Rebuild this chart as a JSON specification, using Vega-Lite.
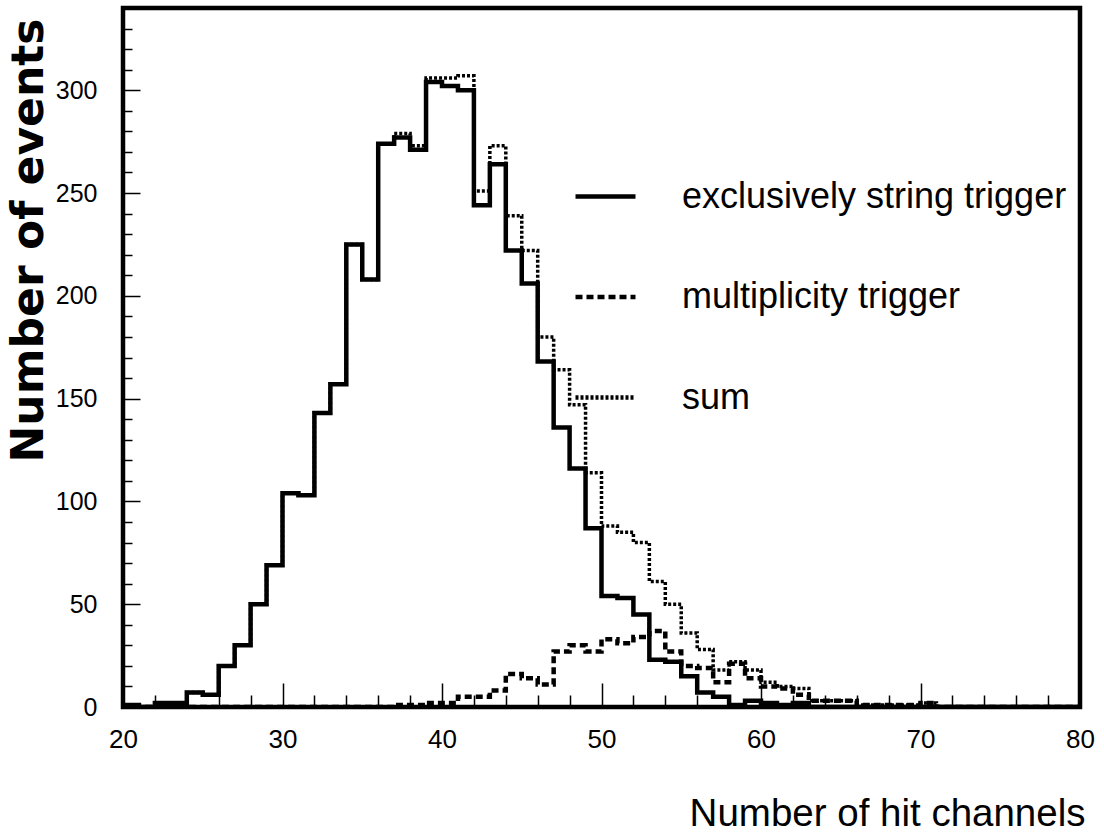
{
  "$schema": "https://vega.github.io/schema/vega-lite/v6.json",
  "width": 957,
  "height": 699,
  "autosize": {"type": "none"},
  "padding": {"left": 123, "top": 8, "right": 24, "bottom": 125},
  "background": "white",
  "config": {
    "view": {"stroke": "black", "strokeWidth": 4.5},
    "axis": {"domain": false, "grid": false, "tickColor": "black", "tickWidth": 1.5, "labelColor": "black", "titleColor": "black"}
  },
  "data": {
    "values": [
      {"ch": 20, "exclusively string trigger": 1, "multiplicity trigger": 0, "sum": 1},
      {"ch": 21, "exclusively string trigger": 0, "multiplicity trigger": 0, "sum": 0},
      {"ch": 22, "exclusively string trigger": 2, "multiplicity trigger": 0, "sum": 2},
      {"ch": 23, "exclusively string trigger": 2, "multiplicity trigger": 0, "sum": 2},
      {"ch": 24, "exclusively string trigger": 7, "multiplicity trigger": 0, "sum": 7},
      {"ch": 25, "exclusively string trigger": 6, "multiplicity trigger": 0, "sum": 6},
      {"ch": 26, "exclusively string trigger": 20, "multiplicity trigger": 0, "sum": 20},
      {"ch": 27, "exclusively string trigger": 30, "multiplicity trigger": 0, "sum": 30},
      {"ch": 28, "exclusively string trigger": 50, "multiplicity trigger": 0, "sum": 50},
      {"ch": 29, "exclusively string trigger": 69, "multiplicity trigger": 0, "sum": 69},
      {"ch": 30, "exclusively string trigger": 104, "multiplicity trigger": 0, "sum": 104},
      {"ch": 31, "exclusively string trigger": 103, "multiplicity trigger": 0, "sum": 103},
      {"ch": 32, "exclusively string trigger": 143, "multiplicity trigger": 0, "sum": 143},
      {"ch": 33, "exclusively string trigger": 157, "multiplicity trigger": 0, "sum": 157},
      {"ch": 34, "exclusively string trigger": 225, "multiplicity trigger": 0, "sum": 225},
      {"ch": 35, "exclusively string trigger": 208, "multiplicity trigger": 0, "sum": 208},
      {"ch": 36, "exclusively string trigger": 274, "multiplicity trigger": 0, "sum": 274},
      {"ch": 37, "exclusively string trigger": 277, "multiplicity trigger": 1, "sum": 279},
      {"ch": 38, "exclusively string trigger": 271, "multiplicity trigger": 1, "sum": 273},
      {"ch": 39, "exclusively string trigger": 304, "multiplicity trigger": 2, "sum": 306},
      {"ch": 40, "exclusively string trigger": 302, "multiplicity trigger": 2, "sum": 306},
      {"ch": 41, "exclusively string trigger": 300, "multiplicity trigger": 5, "sum": 307},
      {"ch": 42, "exclusively string trigger": 244, "multiplicity trigger": 5, "sum": 251},
      {"ch": 43, "exclusively string trigger": 264, "multiplicity trigger": 8, "sum": 273},
      {"ch": 44, "exclusively string trigger": 222, "multiplicity trigger": 16, "sum": 239},
      {"ch": 45, "exclusively string trigger": 206, "multiplicity trigger": 14, "sum": 222},
      {"ch": 46, "exclusively string trigger": 168, "multiplicity trigger": 11, "sum": 180},
      {"ch": 47, "exclusively string trigger": 136, "multiplicity trigger": 27, "sum": 164},
      {"ch": 48, "exclusively string trigger": 116, "multiplicity trigger": 30, "sum": 147},
      {"ch": 49, "exclusively string trigger": 87, "multiplicity trigger": 27, "sum": 114},
      {"ch": 50, "exclusively string trigger": 54, "multiplicity trigger": 33, "sum": 88},
      {"ch": 51, "exclusively string trigger": 53, "multiplicity trigger": 31, "sum": 85},
      {"ch": 52, "exclusively string trigger": 45, "multiplicity trigger": 34, "sum": 80},
      {"ch": 53, "exclusively string trigger": 23, "multiplicity trigger": 37, "sum": 61},
      {"ch": 54, "exclusively string trigger": 22, "multiplicity trigger": 27, "sum": 50},
      {"ch": 55, "exclusively string trigger": 15, "multiplicity trigger": 20, "sum": 36},
      {"ch": 56, "exclusively string trigger": 7, "multiplicity trigger": 19, "sum": 28},
      {"ch": 57, "exclusively string trigger": 5, "multiplicity trigger": 12, "sum": 18},
      {"ch": 58, "exclusively string trigger": 1, "multiplicity trigger": 21, "sum": 22},
      {"ch": 59, "exclusively string trigger": 3, "multiplicity trigger": 14, "sum": 18},
      {"ch": 60, "exclusively string trigger": 2, "multiplicity trigger": 10, "sum": 12},
      {"ch": 61, "exclusively string trigger": 1, "multiplicity trigger": 9, "sum": 10},
      {"ch": 62, "exclusively string trigger": 2, "multiplicity trigger": 6, "sum": 9},
      {"ch": 63, "exclusively string trigger": 0, "multiplicity trigger": 3, "sum": 3},
      {"ch": 64, "exclusively string trigger": 0, "multiplicity trigger": 3, "sum": 3},
      {"ch": 65, "exclusively string trigger": 0, "multiplicity trigger": 3, "sum": 3},
      {"ch": 66, "exclusively string trigger": 0, "multiplicity trigger": 1, "sum": 1},
      {"ch": 67, "exclusively string trigger": 0, "multiplicity trigger": 1, "sum": 1},
      {"ch": 68, "exclusively string trigger": 0, "multiplicity trigger": 1, "sum": 1},
      {"ch": 69, "exclusively string trigger": 0, "multiplicity trigger": 1, "sum": 1},
      {"ch": 70, "exclusively string trigger": 0, "multiplicity trigger": 2, "sum": 2},
      {"ch": 71, "exclusively string trigger": 0, "multiplicity trigger": 0, "sum": 0},
      {"ch": 72, "exclusively string trigger": 0, "multiplicity trigger": 0, "sum": 0},
      {"ch": 73, "exclusively string trigger": 0, "multiplicity trigger": 0, "sum": 0},
      {"ch": 74, "exclusively string trigger": 0, "multiplicity trigger": 0, "sum": 0},
      {"ch": 75, "exclusively string trigger": 0, "multiplicity trigger": 0, "sum": 0},
      {"ch": 76, "exclusively string trigger": 0, "multiplicity trigger": 0, "sum": 0},
      {"ch": 77, "exclusively string trigger": 0, "multiplicity trigger": 0, "sum": 0},
      {"ch": 78, "exclusively string trigger": 0, "multiplicity trigger": 0, "sum": 0},
      {"ch": 79, "exclusively string trigger": 0, "multiplicity trigger": 0, "sum": 0},
      {"ch": 80, "exclusively string trigger": 0, "multiplicity trigger": 0, "sum": 0}
    ]
  },
  "transform": [
    {"fold": ["exclusively string trigger", "multiplicity trigger", "sum"], "as": ["series", "count"]}
  ],
  "layer": [
    {
      "transform": [{"filter": "datum.series !== 'sum'"}],
      "mark": {"type": "line", "interpolate": "step-after", "color": "black", "strokeWidth": 4.5, "clip": true},
      "encoding": {
        "x": {
          "field": "ch", "type": "quantitative",
          "scale": {"domain": [20, 80], "nice": false, "zero": false},
          "axis": {
            "orient": "bottom", "values": [20, 30, 40, 50, 60, 70, 80], "tickSize": -24, "labelPadding": 43,
            "labelFont": "Liberation Sans", "labelFontSize": 26, "labelFlush": false,
            "title": "Number of hit channels", "titleFont": "Liberation Sans", "titleFontSize": 38.5, "titleFontWeight": "normal",
            "titleAlign": "right", "titleBaseline": "alphabetic", "titleX": 962, "titleY": 118, "titleAnchor": "end"
          }
        },
        "y": {
          "field": "count", "type": "quantitative",
          "scale": {"domain": [0, 340], "nice": false},
          "axis": {
            "orient": "left", "values": [0, 50, 100, 150, 200, 250, 300], "tickSize": -17, "labelPadding": 43,
            "labelFont": "Liberation Sans", "labelFontSize": 25, "labelFlush": false,
            "title": "Number of events", "titleFont": "DejaVu Sans", "titleFontSize": 44, "titleFontWeight": "bold",
            "titleAngle": 270, "titleAlign": "right", "titleBaseline": "alphabetic", "titleX": -81, "titleY": 10, "titleAnchor": "end"
          }
        },
        "strokeDash": {
          "field": "series", "type": "nominal",
          "scale": {"domain": ["exclusively string trigger", "multiplicity trigger", "sum"], "range": [[1, 0], [7, 4], [3, 2]]},
          "legend": {
            "orient": "none", "legendX": 450, "legendY": 156, "title": null,
            "symbolSize": 3600, "symbolStrokeColor": "black", "symbolStrokeWidth": 4.5,
            "labelFont": "Liberation Sans", "labelFontSize": 36, "labelColor": "black",
            "labelOffset": 44, "rowPadding": 49.5, "labelLimit": 0, "labelBaseline": "middle",
            "encode": {
              "labels": {"dy": {"value": 8}}
            }
          }
        }
      }
    },
    {
      "transform": [{"filter": "datum.series === 'sum'"}],
      "mark": {"type": "line", "interpolate": "step-after", "color": "black", "strokeWidth": 3.5, "clip": true},
      "encoding": {
        "x": {
          "field": "ch", "type": "quantitative",
          "scale": {"domain": [20, 80], "nice": false, "zero": false},
          "axis": {
            "orient": "bottom", "values": [22, 24, 26, 28, 32, 34, 36, 38, 42, 44, 46, 48, 52, 54, 56, 58, 62, 64, 66, 68, 72, 74, 76, 78],
            "tickSize": -12, "labels": false, "title": null
          }
        },
        "y": {
          "field": "count", "type": "quantitative",
          "scale": {"domain": [0, 340], "nice": false},
          "axis": {
            "orient": "left", "values": [10, 20, 30, 40, 60, 70, 80, 90, 110, 120, 130, 140, 160, 170, 180, 190, 210, 220, 230, 240, 260, 270, 280, 290, 310, 320, 330],
            "tickSize": -9, "labels": false, "title": null
          }
        },
        "strokeDash": {
          "field": "series", "type": "nominal",
          "scale": {"domain": ["exclusively string trigger", "multiplicity trigger", "sum"], "range": [[1, 0], [7, 4], [3, 2]]}
        }
      }
    }
  ],
  "resolve": {"axis": {"x": "independent", "y": "independent"}}
}
